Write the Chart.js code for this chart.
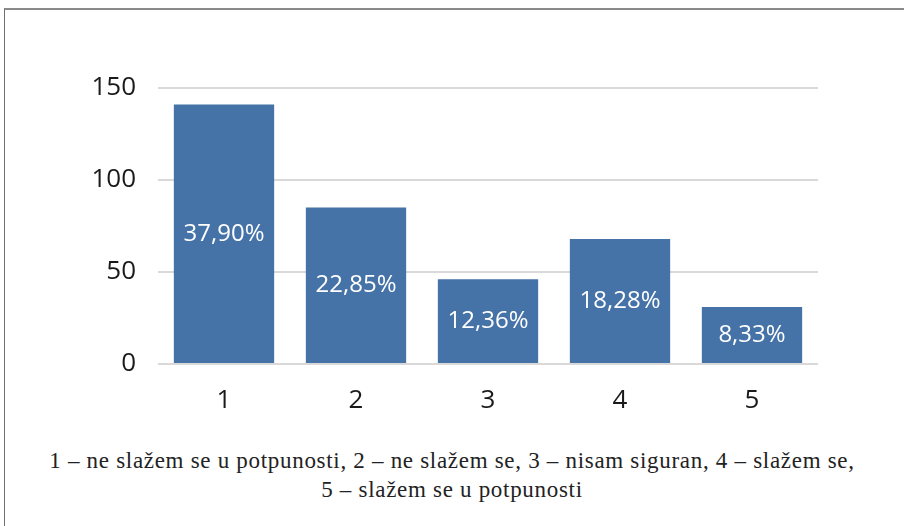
<!DOCTYPE html>
<html>
<head>
<meta charset="utf-8">
<script src="https://cdn.jsdelivr.net/npm/chart.js@4"></script>
<style>
    body { margin: 0; background: #fff; width: 904px; height: 526px; overflow: hidden; position: relative; }
    #frame { position: absolute; left: 4px; top: 8px; width: 1000px; height: 600px; border-top: 2px solid #8a8a8a; border-left: 1px solid #707070; }
    #chart-box { position: absolute; left: 0; top: 0; width: 904px; height: 430px; }
    #caption { position: absolute; left: 0; top: 446px; width: 904px; text-align: center; font-family: "Liberation Serif", serif; font-size: 23px; letter-spacing: 0.7px; line-height: 29px; color: #222; }
</style>
</head>
<body>
<div id="frame"></div>
<div id="chart-box"><canvas id="myChart" width="904" height="430"></canvas></div>
<div id="caption">1 – ne slažem se u potpunosti, 2 – ne slažem se, 3 – nisam siguran, 4 – slažem se,<br>5 – slažem se u potpunosti</div>

<script>
// --- Data ---
const categories = ['1', '2', '3', '4', '5'];
const counts = [141, 85, 46, 68, 31];
const shares = ['37,90%', '22,85%', '12,36%', '18,28%', '8,33%'];
const yTicks = [0, 50, 100, 150];

// Percentage label drawn in the middle of each bar
const barLabels = {
    id: 'barLabels',
    afterDatasetsDraw(chart) {
        const ctx = chart.ctx;
        const meta = chart.getDatasetMeta(0);
        ctx.save();
        ctx.fillStyle = '#ffffff';
        ctx.font = '24px "Open Sans"';
        ctx.textAlign = 'center';
        ctx.textBaseline = 'middle';
        meta.data.forEach((bar, i) => {
            ctx.fillText(shares[i], bar.x, (bar.y + bar.base) / 2);
        });
        ctx.restore();
    }
};

const ctx = document.getElementById('myChart').getContext('2d');
new Chart(ctx, {
    type: 'bar',
    data: {
        labels: categories,
        datasets: [{
            data: counts,
            backgroundColor: '#4572a7',
            borderWidth: 0,
            barPercentage: 0.76,
            categoryPercentage: 1
        }]
    },
    options: {
        responsive: false,
        animation: false,
        layout: { padding: { top: 88, right: 86, bottom: 16, left: 0 } },
        plugins: {
            legend: { display: false },
            tooltip: { enabled: false }
        },
        scales: {
            x: {
                grid: { display: false },
                border: { display: false },
                ticks: { color: '#1a1a1a', font: { family: 'Open Sans', size: 26 }, padding: 13 },
                afterFit(scale) { scale.height = 50; }
            },
            y: {
                min: 0,
                max: 150,
                afterBuildTicks(scale) { scale.ticks = yTicks.map(v => ({ value: v })); },
                grid: { color: '#d9d9d9', lineWidth: 2, drawTicks: false },
                border: { display: false },
                ticks: { color: '#1a1a1a', font: { family: 'Open Sans', size: 26 }, padding: 22 },
                afterFit(scale) { scale.width = 158; }
            }
        }
    },
    plugins: [barLabels]
});
</script>
</body>
</html>
